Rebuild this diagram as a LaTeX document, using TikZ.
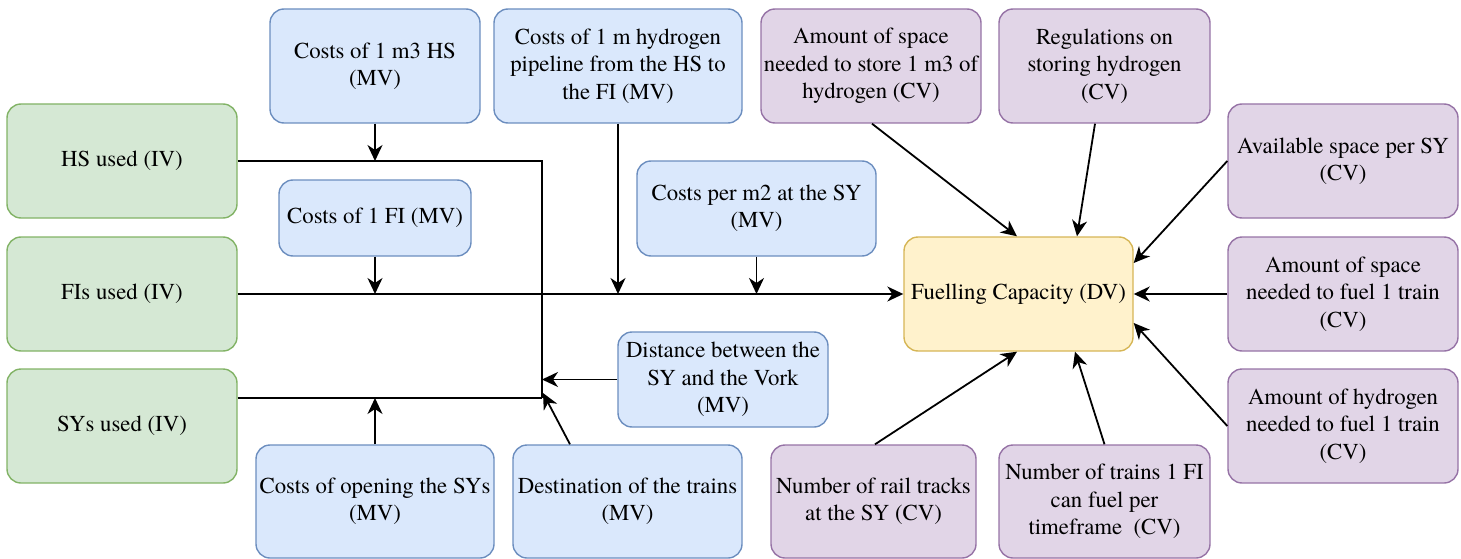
\documentclass[tikz,border=0pt]{standalone}
\usepackage{fontspec}
\setmainfont{TeX Gyre Termes}
\usetikzlibrary{arrows.meta,calc}
\definecolor{mvfill}{HTML}{DAE8FC}\definecolor{mvdraw}{HTML}{6C8EBF}
\definecolor{ivfill}{HTML}{D5E8D4}\definecolor{ivdraw}{HTML}{82B366}
\definecolor{cvfill}{HTML}{E1D5E7}\definecolor{cvdraw}{HTML}{9673A6}
\definecolor{dvfill}{HTML}{FFF2CC}\definecolor{dvdraw}{HTML}{D6B656}
\begin{document}
\begin{tikzpicture}[x=1pt,y=-1pt,
  box/.style={draw, rounded corners=14pt, line width=1.4pt, align=center,
    inner sep=0pt, font=\fontsize{22.8}{27.4}\selectfont},
  mv/.style={box, fill=mvfill, draw=mvdraw},
  iv/.style={box, fill=ivfill, draw=ivdraw, minimum width=230pt, minimum height=114pt},
  cv/.style={box, fill=cvfill, draw=cvdraw},
  dv/.style={box, fill=dvfill, draw=dvdraw},
  wire/.style={line width=1.8pt},
  link/.style={wire, -{Stealth[length=16pt,width=15pt,inset=5pt]}}]
\useasboundingbox (0,0) rectangle (1461,559);

% independent variables
\node[iv] (hs) at (122,161) {HS used (IV)};
\node[iv] (fis) at (122,294) {FIs used (IV)};
\node[iv] (sys) at (122,426) {SYs used (IV)};

% moderating variables
\node[mv, minimum width=210pt, minimum height=114pt] (m3) at (375,66) {Costs of 1 m3 HS\\(MV)};
\node[mv, minimum width=248pt, minimum height=114pt] (pipe) at (618,66) {Costs of 1 m hydrogen\\pipeline from the HS to\\the FI (MV)};
\node[mv, minimum width=192pt, minimum height=76pt] (fi) at (375,218) {Costs of 1 FI (MV)};
\node[mv, minimum width=239pt, minimum height=95pt] (m2) at (756.5,208.5) {Costs per m2 at the SY\\(MV)};
\node[mv, minimum width=210pt, minimum height=95pt] (dist) at (723,379.5) {Distance between the\\SY and the Vork\\(MV)};
\node[mv, minimum width=238pt, minimum height=113pt] (open) at (375,501.5) {Costs of opening the SYs\\(MV)};
\node[mv, minimum width=229pt, minimum height=113pt] (dest) at (627.5,501.5) {Destination of the trains\\(MV)};

% dependent variable
\node[dv, minimum width=229pt, minimum height=114pt] (cap) at (1018.5,294) {Fuelling Capacity (DV)};

% control variables
\node[cv, minimum width=220pt, minimum height=114pt] (store) at (871,66) {Amount of space\\needed to store 1 m3 of\\hydrogen (CV)};
\node[cv, minimum width=211pt, minimum height=114pt] (reg) at (1104.5,66) {Regulations on\\storing hydrogen\\(CV)};
\node[cv, minimum width=230pt, minimum height=114pt] (avail) at (1343,161) {Available space per SY\\(CV)};
\node[cv, minimum width=230pt, minimum height=114pt] (fuel) at (1343,294) {Amount of space\\needed to fuel 1 train\\(CV)};
\node[cv, minimum width=230pt, minimum height=114pt] (hyd) at (1343,426) {Amount of hydrogen\\needed to fuel 1 train\\(CV)};
\node[cv, minimum width=205pt, minimum height=113pt] (rail) at (873.5,501.5) {Number of rail tracks\\at the SY (CV)};
\node[cv, minimum width=211pt, minimum height=113pt] (trains) at (1104.5,501.5) {Number of trains 1 FI\\can fuel per\\timeframe \ (CV)};

% junction points on the main lines
\coordinate (hsj) at (375,161);
\coordinate (corner) at (542,161);
\coordinate (merge) at (542,398);
\coordinate (distj) at (542,379.5);
\coordinate (destj) at (543,393);
\coordinate (fij) at (375,294);
\coordinate (pipej) at (618,294);
\coordinate (m2j) at (756.5,294);
\coordinate (sysj) at (375,398);

% main lines from the independent variables
\draw[wire] (hs.east) -- (corner) -- (merge);
\draw[wire] (sys.east |- merge) -- (merge);
\draw[link] (fis.east) -- (cap.west);

% moderators onto the lines
\draw[link] (m3.south) -- (hsj);
\draw[link] (fi.south) -- (fij);
\draw[link] (pipe.south) -- (pipej);
\draw[link] (m2.south) -- (m2j);
\draw[link] (open.north) -- (sysj);
\draw[link] (dist.west) -- (distj);
\draw[link] ([xshift=-57.5pt]dest.north) -- (destj);

% controls into the fuelling capacity
\draw[link] ([xshift=1pt]store.south) -- ([xshift=-1.5pt]cap.north);
\draw[link] ([xshift=-9.5pt]reg.south) -- ([xshift=58.5pt]cap.north);
\draw[link] (avail.west) -- ([yshift=31pt]cap.east);
\draw[link] (fuel.west) -- (cap.east);
\draw[link] (hyd.west) -- ([yshift=-29pt]cap.east);
\draw[link] ([xshift=1.5pt]rail.north) -- ([xshift=-1.5pt]cap.south);
\draw[link] (trains.north) -- ([xshift=56.5pt]cap.south);
\end{tikzpicture}
\end{document}
